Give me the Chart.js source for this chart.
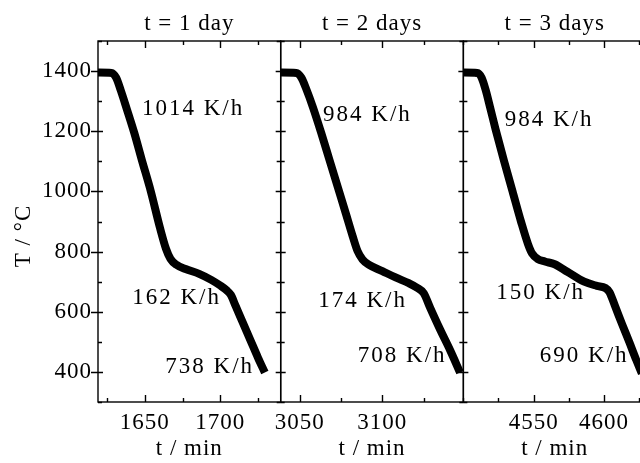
<!DOCTYPE html>
<html>
<head>
<meta charset="utf-8">
<script src="https://cdn.jsdelivr.net/npm/chart.js@4/dist/chart.umd.min.js"></script>
<style>
  html, body { margin: 0; padding: 0; background: #fff; overflow: hidden; }
</style>
</head>
<body>
<canvas id="myChart" width="649" height="463"></canvas>
<script>
// cooling runs, one panel per holding time
const panelTitles = ['t = 1 day', 't = 2 days', 't = 3 days'];

const day1Time = [1619, 1628, 1631, 1634, 1638, 1643, 1648, 1654, 1660, 1664, 1667, 1671, 1677, 1686, 1694, 1700, 1704, 1707, 1710, 1715, 1720, 1725, 1729.5];
const day1Temp = [1395, 1394, 1378, 1337, 1275, 1195, 1105, 1000, 880, 810, 776, 756, 742, 726, 706, 687, 672, 656, 621, 563, 505, 447, 398];

const day2Time = [3038.5, 3048, 3051, 3054, 3058, 3063, 3068, 3073, 3078, 3082, 3085, 3088, 3092, 3100, 3108, 3116, 3121, 3125, 3129, 3135, 3141, 3147];
const day2Temp = [1395, 1394, 1378, 1340, 1280, 1195, 1105, 1015, 925, 852, 802, 774, 756, 735, 714, 695, 680, 662, 612, 540, 472, 398];

const day3Time = [4500, 4510, 4513, 4516, 4519, 4523, 4529, 4535, 4541, 4546, 4549, 4553, 4558, 4565, 4574, 4586, 4595, 4601, 4604, 4608, 4613, 4618, 4623, 4627];
const day3Temp = [1395, 1394, 1378, 1335, 1280, 1205, 1100, 1000, 900, 825, 793, 775, 767, 758, 733, 700, 686, 679, 665, 618, 558, 500, 440, 395];

const rateTexts = [
  ['1014 K/h', '162 K/h', '738 K/h'],
  ['984 K/h', '174 K/h', '708 K/h'],
  ['984 K/h', '150 K/h', '690 K/h']
];

// tick labels
const tempTicks = [400, 600, 800, 1000, 1200, 1400];
const timeTicks = [[1650, 1700], [3050, 3100], [4550, 4600]];

// axis ranges and where the rate notes sit (in t, T)
const panelRanges = [[1619, 1740], [3038.5, 3149], [4500, 4630]];
const rateAnchors = [
  [[1682, 1274], [1671, 646], [1693, 418]],
  [[3091, 1254], [3088, 636], [3112, 453]],
  [[4561, 1237], [4555, 661], [4586, 453]]
];

const panelIds = ['x1', 'x2', 'x3'];
const series = [[day1Time, day1Temp], [day2Time, day2Temp], [day3Time, day3Temp]];
const serif = '"Liberation Serif", "Times New Roman", serif';

Chart.defaults.font.family = serif;
Chart.defaults.font.size = 23;
Chart.defaults.color = '#000';

// box round each panel, ticks pointing inwards, notes and y title
const framePlugin = {
  id: 'frame',
  beforeDraw(chart) {
    chart.ctx.letterSpacing = '1px';
  },
  afterDatasetsDraw(chart) {
    const ctx = chart.ctx;
    const top = chart.chartArea.top;
    const bottom = chart.chartArea.bottom;
    const yScale = chart.scales.y;

    ctx.save();
    ctx.strokeStyle = '#000';
    ctx.lineWidth = 1.4;
    panelIds.forEach(function(id, i) {
      const xs = chart.scales[id];
      const l = xs.left;
      const r = xs.right;
      ctx.strokeRect(l, top, r - l, bottom - top);
      ctx.beginPath();
      for (let tk of xs.ticks) {
        const px = Math.round(xs.getPixelForValue(tk.value)) + 0.5;
        const len = timeTicks[i].includes(tk.value) ? 7 : 4;
        ctx.moveTo(px, bottom);
        ctx.lineTo(px, bottom - len);
        ctx.moveTo(px, top);
        ctx.lineTo(px, top + len);
      }
      for (let tk of yScale.ticks) {
        const py = Math.round(yScale.getPixelForValue(tk.value)) + 0.5;
        const major = tempTicks.includes(tk.value);
        const len = major ? 5 : 4;
        ctx.moveTo(l, py);
        ctx.lineTo(l + len, py);
        ctx.moveTo(r, py);
        ctx.lineTo(r - len, py);
        if (i === 0 && major) {
          ctx.moveTo(l, py);
          ctx.lineTo(l - 7, py);
        }
      }
      ctx.stroke();

      ctx.fillStyle = '#000';
      ctx.font = '23px ' + serif;
      ctx.letterSpacing = '2px';
      ctx.textAlign = 'center';
      ctx.textBaseline = 'middle';
      rateTexts[i].forEach(function(txt, k) {
        const a = rateAnchors[i][k];
        ctx.fillText(txt, xs.getPixelForValue(a[0]), yScale.getPixelForValue(a[1]));
      });
    });

    ctx.letterSpacing = '1px';
    ctx.translate(24, 236);
    ctx.rotate(-Math.PI / 2);
    ctx.fillText('T / °C', 0, 0);
    ctx.restore();
  }
};

const scales = {
  y: {
    type: 'linear',
    position: 'left',
    min: 300,
    max: 1500,
    grid: { display: false, drawTicks: false },
    border: { display: false },
    ticks: {
      stepSize: 100,
      autoSkip: false,
      padding: 6,
      callback: function(v) { return tempTicks.includes(v) ? String(v) : ''; }
    },
    afterFit: function(s) { s.width = 98; }
  }
};

panelIds.forEach(function(id, i) {
  scales[id] = {
    type: 'linear',
    position: 'bottom',
    stack: 'panels',
    stackWeight: 1,
    min: panelRanges[i][0],
    max: panelRanges[i][1],
    grid: { display: false, drawTicks: false },
    border: { display: false },
    ticks: {
      stepSize: 25,
      includeBounds: false,
      autoSkip: false,
      maxRotation: 0,
      padding: 7,
      callback: function(v) { return timeTicks[i].includes(v) ? String(v) : ''; }
    },
    title: { display: true, text: 't / min', padding: { top: 0, bottom: 0 } },
    afterFit: function(s) { s.height = 61; }
  };
});

// top row carries the panel titles; top boxes are laid out by descending weight
panelIds.forEach(function(id, i) {
  scales[id + 'top'] = {
    type: 'linear',
    position: 'top',
    stack: 'titles',
    stackWeight: 1,
    weight: panelIds.length - i,
    min: panelRanges[i][0],
    max: panelRanges[i][1],
    grid: { display: false, drawTicks: false },
    border: { display: false },
    ticks: { display: false },
    title: { display: true, text: panelTitles[i], padding: { top: 10, bottom: 0 } },
    afterFit: function(s) { s.height = 41; }
  };
});

const datasets = series.map(function(s, i) {
  return {
    label: panelTitles[i],
    data: s[0].map(function(t, k) { return { x: t, y: s[1][k] }; }),
    xAxisID: panelIds[i],
    yAxisID: 'y',
    borderColor: '#000',
    backgroundColor: '#000',
    borderWidth: 8,
    borderJoinStyle: 'round',
    borderCapStyle: 'butt',
    cubicInterpolationMode: 'monotone',
    pointRadius: 0,
    fill: false
  };
});

const ctx = document.getElementById('myChart').getContext('2d');
// eslint-disable-next-line no-undef
const chart = new Chart(ctx, {
  type: 'line',
  data: { datasets: datasets },
  options: {
    responsive: false,
    animation: false,
    layout: { padding: 0 },
    plugins: { legend: { display: false }, tooltip: { enabled: false } },
    scales: scales
  },
  plugins: [framePlugin]
});
</script>
</body>
</html>
